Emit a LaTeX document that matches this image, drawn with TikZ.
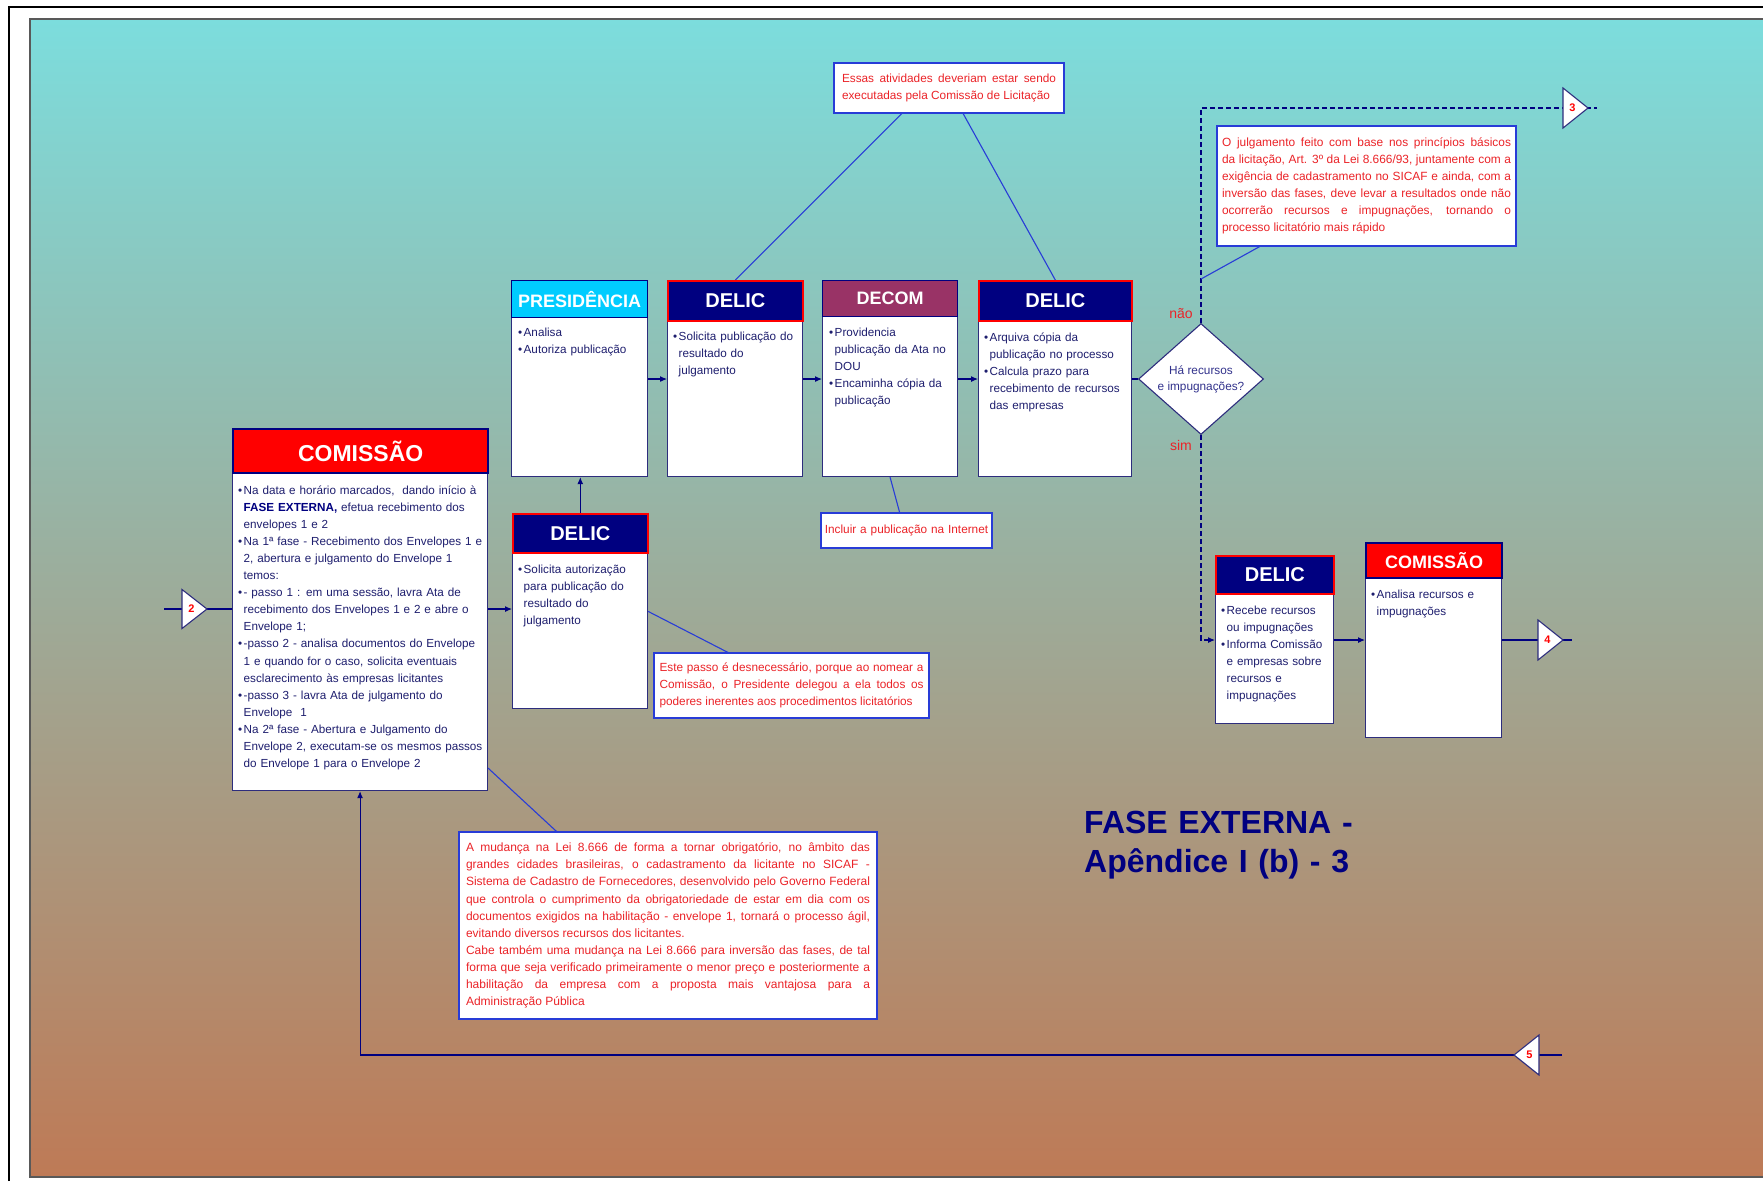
\documentclass[tikz,border=0pt]{standalone}
\usepackage{fontspec}
\setmainfont{Liberation Sans}
\usetikzlibrary{arrows.meta,shapes.geometric,calc}
\pgfdeclarelayer{bg}
\pgfdeclarelayer{ln}
\pgfsetlayers{bg,ln,main}
\definecolor{navy}{RGB}{0,0,128}
\definecolor{bordr}{RGB}{45,45,125}
\definecolor{txtb}{RGB}{30,30,110}
\definecolor{nred}{RGB}{235,35,40}
\definecolor{cline}{RGB}{40,60,215}
\definecolor{cyanh}{RGB}{0,204,255}
\definecolor{plum}{RGB}{153,51,102}
\definecolor{gtop}{RGB}{124,221,221}
\definecolor{gmid}{RGB}{153,170,150}
\definecolor{gbot}{RGB}{190,122,86}
\definecolor{diat}{RGB}{50,50,140}
\definecolor{hred}{RGB}{255,0,0}
\newcommand\bu{\makebox[5.5pt][l]{\textbullet}}
\newcommand\ct{\hspace*{5.5pt}}
\tikzset{
  body/.style={draw=bordr, line width=1.1pt, fill=white, anchor=north west, inner sep=0pt},
  hdr/.style={anchor=north west, inner sep=0pt, text=white, font=\bfseries\fontsize{20}{22}\selectfont},
  hdrdelic/.style={hdr, fill=navy, draw=hred, line width=1.6pt},
  btxt/.style={anchor=base west, inner sep=0pt, text width=250pt, align=left, text=txtb, font=\fontsize{11.7}{17.1}\selectfont},
  note/.style={draw=cline, line width=1.1pt, fill=white, text=nred, align=justify, inner ysep=0pt, font=\fontsize{11.8}{17.1}\selectfont},
  flow/.style={draw=navy, line width=1.1pt},
  flowarr/.style={-{Latex[length=7pt,width=6pt]}},
  callout/.style={draw=cline, line width=1.1pt},
  dashline/.style={draw=navy, line width=1.1pt, dash pattern=on 5pt off 3pt},
  tri/.style={draw=bordr, line width=1.1pt, fill=white},
  trilabel/.style={inner sep=0pt, text=hred, font=\bfseries\fontsize{11}{12}\selectfont},
}
\begin{document}
\begin{tikzpicture}[x=1pt,y=-1pt]
\useasboundingbox (0,0) rectangle (1763,1181);
\begin{pgfonlayer}{bg}
\fill[white] (0,0) rectangle (1763,1181);
\shade[top color=gtop, middle color=gmid, bottom color=gbot] (30,19) rectangle (1763,1177);
\draw[black!65, line width=1.2pt] (1763,19) -- (30,19) -- (30,1177) -- (1763,1177);
\draw[black, line width=2pt] (9,1181) -- (9,7) -- (1763,7);
\end{pgfonlayer}

% ---------- process boxes ----------
\node[body, minimum width=136pt, minimum height=159pt] (presB) at (511,317) {};
\node[hdr, fill=cyanh, draw=navy, line width=1.3pt, minimum width=136pt, minimum height=37pt, font=\bfseries\fontsize{18}{20}\selectfont] (presH) at (511,280) {PRESIDÊNCIA};

\node[body, minimum width=135pt, minimum height=156pt] (dlAB) at (667,320) {};
\node[hdrdelic, minimum width=135pt, minimum height=40pt] (dlAH) at (667,280) {DELIC};

\node[body, minimum width=135pt, minimum height=160pt] (decB) at (822,316) {};
\node[hdr, fill=plum, draw=navy, line width=1.3pt, minimum width=135pt, minimum height=36pt, font=\bfseries\fontsize{18}{20}\selectfont] (decH) at (822,280) {DECOM};

\node[body, minimum width=153pt, minimum height=156pt] (dlBB) at (978,320) {};
\node[hdrdelic, minimum width=153pt, minimum height=40pt] (dlBH) at (978,280) {DELIC};

\node[body, minimum width=255pt, minimum height=318pt] (comB) at (232,472) {};
\node[hdr, fill=hred, draw=navy, line width=2.4pt, minimum width=255pt, minimum height=44pt, font=\bfseries\fontsize{23}{25}\selectfont] (comH) at (232,428) {COMISSÃO};

\node[body, minimum width=135pt, minimum height=156pt] (dlCB) at (512,552) {};
\node[hdrdelic, minimum width=135pt, minimum height=39pt] (dlCH) at (512,513) {DELIC};

\node[body, minimum width=118pt, minimum height=130pt] (dlDB) at (1215,593) {};
\node[hdrdelic, minimum width=118pt, minimum height=38pt] (dlDH) at (1215,555) {DELIC};

\node[body, minimum width=136pt, minimum height=160pt] (com2B) at (1365,577) {};
\node[hdr, fill=hred, draw=navy, line width=2pt, minimum width=136pt, minimum height=35pt, font=\bfseries\fontsize{18}{20}\selectfont] (com2H) at (1365,542) {COMISSÃO};

% ---------- body texts ----------
\node[btxt] (presT) at (518,336) {\bu Analisa\\\bu Autoriza publicação};
\node[btxt] (dlAT) at (673,340) {\bu Solicita publicação do\\\ct resultado do\\\ct julgamento};
\node[btxt] (decT) at (829,336) {\bu Providencia\\\ct publicação da Ata no\\\ct DOU\\\bu Encaminha cópia da\\\ct publicação};
\node[btxt] (dlBT) at (984,341) {\bu Arquiva cópia da\\\ct publicação no processo\\\bu Calcula prazo para\\\ct recebimento de recursos\\\ct das empresas};
\node[btxt] (comT) at (238,494) {\bu Na data e horário marcados,\ \ dando início à\\
\ct {\bfseries\color{navy}FASE EXTERNA,} efetua recebimento dos\\
\ct envelopes 1 e 2\\
\bu Na 1ª fase - Recebimento dos Envelopes 1 e\\
\ct 2, abertura e julgamento do Envelope 1\\
\ct temos:\\
\bu - passo 1 : em uma sessão, lavra Ata de\\
\ct recebimento dos Envelopes 1 e 2 e abre o\\
\ct Envelope 1;\\
\bu -passo 2 - analisa documentos do Envelope\\
\ct 1 e quando for o caso, solicita eventuais\\
\ct esclarecimento às empresas licitantes\\
\bu -passo 3 - lavra Ata de julgamento do\\
\ct Envelope\ \ 1\\
\bu Na 2ª fase - Abertura e Julgamento do\\
\ct Envelope 2, executam-se os mesmos passos\\
\ct do Envelope 1 para o Envelope 2};
\node[btxt] (dlCT) at (518,573) {\bu Solicita autorização\\\ct para publicação do\\\ct resultado do\\\ct julgamento};
\node[btxt] (dlDT) at (1221,614) {\bu Recebe recursos\\\ct ou impugnações\\\bu Informa Comissão\\\ct e empresas sobre\\\ct recursos e\\\ct impugnações};
\node[btxt] (com2T) at (1371,598) {\bu Analisa recursos e\\\ct impugnações};

% ---------- decision ----------
\node[diamond, draw=bordr, fill=white, line width=1.1pt, minimum width=125pt, minimum height=111pt, inner sep=0pt, aspect=1.13, align=center, text=diat, font=\fontsize{11.8}{16}\selectfont] (dia) at (1201,379) {Há recursos\\e impugnações?};
\node[anchor=base, inner sep=0pt, text=nred, font=\fontsize{14}{16}\selectfont] (nao) at (1181,318) {não};
\node[anchor=base, inner sep=0pt, text=nred, font=\fontsize{14}{16}\selectfont] (sim) at (1181,450) {sim};

% ---------- title ----------
\node[anchor=base west, inner sep=0pt, text width=320pt, align=left, text=navy, font=\bfseries\fontsize{32}{39}\selectfont] (title) at (1084,833) {FASE EXTERNA -\\Apêndice I (b) - 3};

% ---------- notes ----------
\node[note, minimum width=230pt, minimum height=50pt, text width=214pt, inner xsep=8pt] (nEssas) at (949,88) {Essas atividades deveriam estar sendo\linebreak executadas pela Comissão de Licitação};
\node[note, minimum width=299pt, minimum height=120pt, text width=289pt, inner xsep=5pt, font=\fontsize{11.9}{17.1}\selectfont] (nJul) at (1366.5,186) {O julgamento feito com base nos princípios básicos\linebreak da licitação, Art. 3º da Lei 8.666/93, juntamente com a\linebreak exigência de cadastramento no SICAF e ainda, com a\linebreak inversão das fases, deve levar a resultados onde não\linebreak ocorrerão recursos e impugnações, tornando o\linebreak processo licitatório mais rápido};
\node[note, minimum width=275pt, minimum height=65pt, text width=264pt, inner xsep=5.5pt] (nEste) at (791.5,685.5) {Este passo é desnecessário, porque ao nomear a\linebreak Comissão, o Presidente delegou a ela todos os\linebreak poderes inerentes aos procedimentos licitatórios};
\node[note, minimum width=171pt, minimum height=35pt, text width=165pt, inner xsep=3pt, align=center] (nInc) at (906.5,530.5) {Incluir a publicação na Internet};
\node[note, minimum width=418pt, minimum height=187pt, text width=404pt, inner xsep=7pt, font=\fontsize{12}{17.1}\selectfont] (nMud) at (668,925.5) {A mudança na Lei 8.666 de forma a tornar obrigatório, no âmbito das\linebreak grandes cidades brasileiras, o cadastramento da licitante no SICAF -\linebreak Sistema de Cadastro de Fornecedores, desenvolvido pelo Governo Federal\linebreak que controla o cumprimento da obrigatoriedade de estar em dia com os\linebreak documentos exigidos na habilitação - envelope 1, tornará o processo ágil,\linebreak evitando diversos recursos dos licitantes.\newline Cabe também uma mudança na Lei 8.666 para inversão das fases, de tal\linebreak forma que seja verificado primeiramente o menor preço e posteriormente a\linebreak habilitação da empresa com a proposta mais vantajosa para a\linebreak Administração Pública};

% ---------- connector points ----------
\coordinate (c2) at (194.5,609);
\coordinate (s2) at (164,609);
\coordinate (c3) at (1575.5,108);
\coordinate (e3) at (1597,108);
\coordinate (c4) at (1550.5,640);
\coordinate (e4) at (1572,640);
\coordinate (c5) at (1526.5,1055);
\coordinate (e5) at (1562,1055);
\coordinate (k1) at (1201,279);

% ---------- connectors ----------
\begin{pgfonlayer}{ln}
\draw[flow] (s2) -- (comB.west |- s2);
\draw[flow,flowarr] (comB.east |- s2) -- (dlCB.west |- s2);
\draw[flow,flowarr] (dlCH.north) -- (dlCH.north |- presB.south);
\draw[flow,flowarr] (presB.east |- dia) -- (dlAB.west |- dia);
\draw[flow,flowarr] (dlAB.east |- dia) -- (decB.west |- dia);
\draw[flow,flowarr] (decB.east |- dia) -- (dlBB.west |- dia);
\draw[flow] (dlBB.east |- dia) -- (dia.west);
\draw[dashline] (dia.north) -- (dia.north |- c3) -- (e3);
\draw[dashline,flowarr] (dia.south) -- (dia.south |- c4) -- (dlDB.west |- c4);
\draw[flow,flowarr] (dlDB.east |- c4) -- (com2B.west |- c4);
\draw[flow] (com2B.east |- c4) -- (e4);
\draw[flow,flowarr] (e5) -- (comB.south |- e5) -- (comB.south);
% callouts
\draw[callout] ($(nEssas.south west)!0.296!(nEssas.south east)$) -- (dlAH.north);
\draw[callout] ($(nEssas.south west)!0.561!(nEssas.south east)$) -- (dlBH.north);
\draw[callout] ($(nJul.south west)!0.144!(nJul.south east)$) -- (k1);
\draw[callout] ($(nInc.north west)!0.46!(nInc.north east)$) -- (decB.south);
\draw[callout] ($(nEste.north west)!0.27!(nEste.north east)$) -- ($(dlCB.north east)!0.378!(dlCB.south east)$);
\draw[callout] ($(nMud.north west)!0.234!(nMud.north east)$) -- ($(comB.north east)!0.928!(comB.south east)$);
\end{pgfonlayer}

% ---------- off-page connectors ----------
\draw[tri] ($(c2)+(-12.5,-19.5)$) -- ($(c2)+(12.5,0)$) -- ($(c2)+(-12.5,19.5)$) -- cycle;
\node[trilabel] (t2) at ($(c2)+(-3,0)$) {2};
\draw[tri] ($(c3)+(-12.5,-20)$) -- ($(c3)+(12.5,0)$) -- ($(c3)+(-12.5,20)$) -- cycle;
\node[trilabel] (t3) at ($(c3)+(-3,0)$) {3};
\draw[tri] ($(c4)+(-12.5,-20)$) -- ($(c4)+(12.5,0)$) -- ($(c4)+(-12.5,20)$) -- cycle;
\node[trilabel] (t4) at ($(c4)+(-3,0)$) {4};
\draw[tri] ($(c5)+(12.5,-20)$) -- ($(c5)+(-12.5,0)$) -- ($(c5)+(12.5,20)$) -- cycle;
\node[trilabel] (t5) at ($(c5)+(3,0)$) {5};
\end{tikzpicture}
\end{document}
